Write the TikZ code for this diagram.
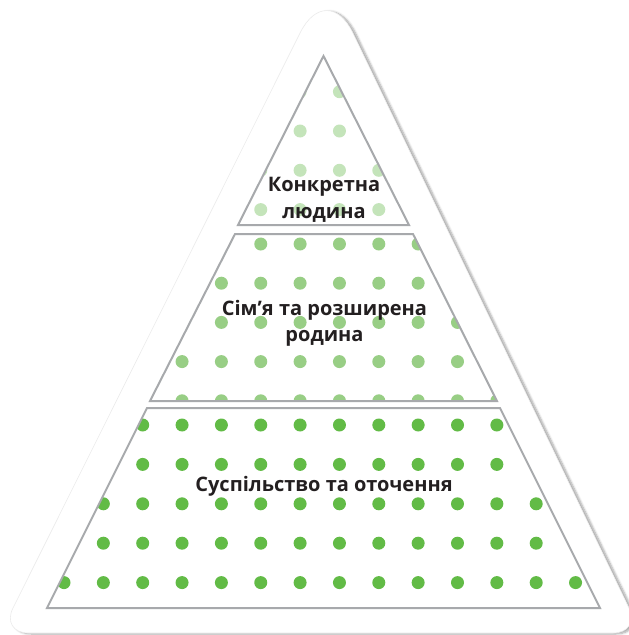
\documentclass[tikz,border=0pt]{standalone}
\usepackage{fontspec}
\setmainfont{Open Sans}
\usetikzlibrary{shadows.blur}
\definecolor{tiergray}{RGB}{167,169,172}
\definecolor{dotgreen}{RGB}{98,187,70}
\definecolor{dotmid}{RGB}{152,206,133}
\definecolor{dotpale}{RGB}{196,228,186}
\definecolor{inkblack}{RGB}{35,31,32}

\begin{document}
\begin{tikzpicture}[x=1pt, y=-1pt,
    tier/.style={draw=tiergray, line width=2pt},
    tiertext/.style={font=\fontsize{20}{26.5}\selectfont\bfseries, text=inkblack, align=center, inner sep=0pt}]

    \useasboundingbox (0,0) rectangle (629,635);

    \fill[white, draw=black!8, line width=0.6pt,
        blur shadow={shadow xshift=3pt, shadow yshift=-1pt, shadow opacity=35, shadow blur steps=6}]
        (0.5,633) [rounded corners=60pt] -- (327,-21) [rounded corners=28pt] -- (641,633) -- cycle;

    \coordinate (topapex) at (323.5,56);
    \coordinate (topright) at (409,225);
    \coordinate (topleft) at (238,225);

    \coordinate (midtl) at (235,234);
    \coordinate (midtr) at (413,234);
    \coordinate (midbr) at (497,401);
    \coordinate (midbl) at (150,401);

    \coordinate (lowtl) at (147,408);
    \coordinate (lowtr) at (500,408);
    \coordinate (lowbr) at (600,608);
    \coordinate (lowbl) at (47,608);

    \begin{scope}
        \clip (topapex) -- (topright) -- (topleft) -- cycle;
        \foreach \row in {0,...,3}
            \foreach \col in {0,...,13}
                \fill[dotpale] (64+39.35*\col, 91.7+39.3*\row) circle (6.5pt);
    \end{scope}

    \begin{scope}
        \clip (midtl) -- (midtr) -- (midbr) -- (midbl) -- cycle;
        \foreach \row in {0,...,4}
            \foreach \col in {0,...,13}
                \fill[dotmid] (64+39.35*\col, 244+39.2*\row) circle (6.5pt);
    \end{scope}

    \begin{scope}
        \clip (lowtl) -- (lowtr) -- (lowbr) -- (lowbl) -- cycle;
        \foreach \row in {0,...,4}
            \foreach \col in {0,...,13}
                \fill[dotgreen] (64+39.35*\col, 425+39.4*\row) circle (6.5pt);
    \end{scope}

    \draw[tier] (topapex) -- (topright) -- (topleft) -- cycle;
    \draw[tier] (midtl) -- (midtr) -- (midbr) -- (midbl) -- cycle;
    \draw[tier] (lowtl) -- (lowtr) -- (lowbr) -- (lowbl) -- cycle;

    \node[tiertext, anchor=base] (person) at (324,218.3) {Конкретна\\людина};
    \node[tiertext, anchor=base] (family) at (324.5,341.7) {Сім’я та розширена\\родина};
    \node[tiertext, anchor=base] (society) at (324,491.7) {Суспільство та оточення};

\end{tikzpicture}
\end{document}
